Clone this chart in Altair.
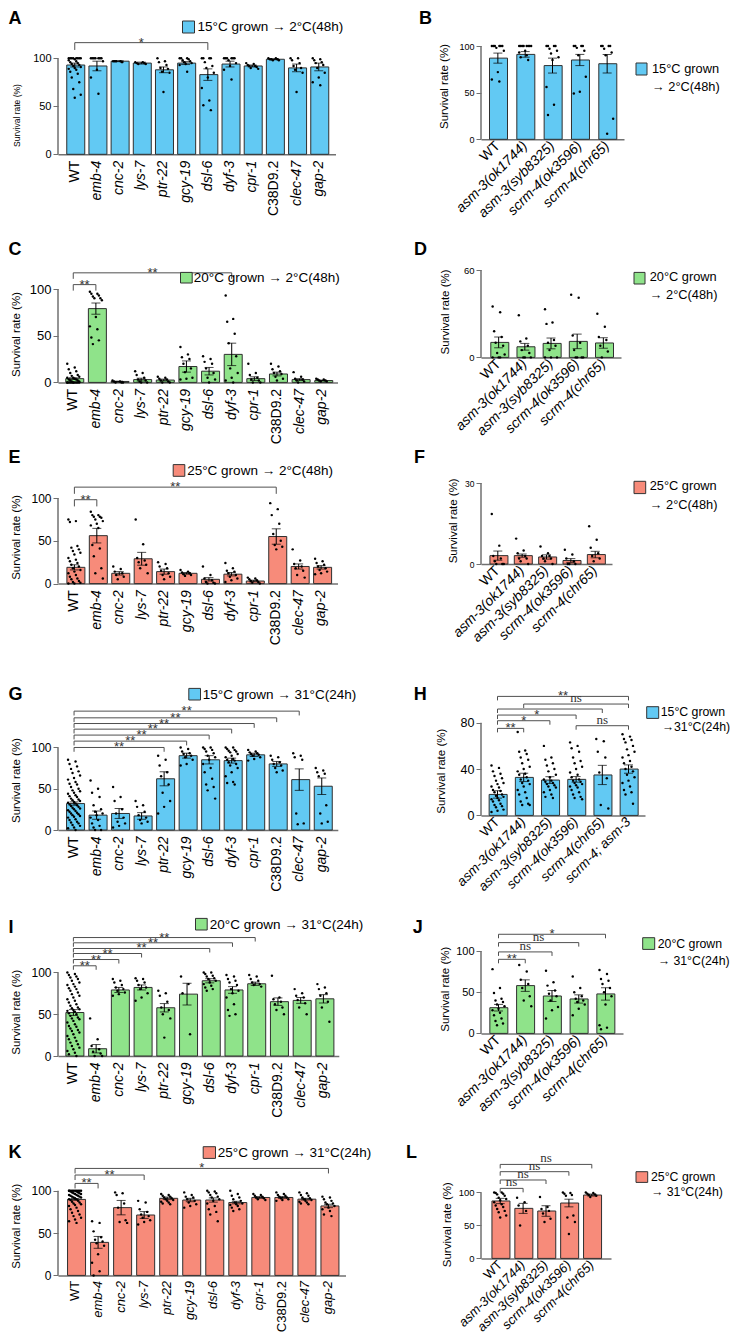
import altair as alt
import pandas as pd

FONT = "Liberation Sans"
SERIF = "Liberation Serif"
BLUE = "#62C9F3"
GREEN = "#8FE38A"
SALMON = "#F78B7A"
AXC = "#707070"
BRC = "#505050"

GENES = ["WT", "emb-4", "cnc-2", "lys-7", "ptr-22", "gcy-19", "dsl-6", "dyf-3",
         "cpr-1", "C38D9.2", "clec-47", "gap-2"]
ALLELES = ["WT", "asm-3(ok1744)", "asm-3(syb8325)", "scrm-4(ok3596)", "scrm-4(chr65)"]
ALLELES_H = ALLELES + ["scrm-4; asm-3"]

# ---------------- A ----------------
A_MEAN = [93, 92, 97, 95, 88, 95, 83, 94, 92, 99, 90, 91]
A_SEM = [2, 5, 0.5, 1, 3, 1.5, 6, 3, 1, 0.5, 4, 4]
A_PTS = [
    [100, 100, 100, 100, 100, 100, 100, 100, 99, 98, 97, 96, 95, 94, 93, 92, 91, 90, 89, 88, 86, 84, 80, 75, 68, 62, 59],
    [100, 100, 100, 100, 100, 100, 100, 97, 88, 80, 63],
    [97, 97, 97, 96, 97],
    [96, 96, 95, 95, 94, 94],
    [100, 97, 96, 93, 90, 89, 86, 85, 65],
    [100, 100, 100, 99, 98, 97, 96, 95, 94, 93, 86],
    [100, 100, 100, 100, 96, 92, 90, 85, 80, 69, 56, 51, 46],
    [100, 100, 100, 100, 100, 100, 98, 95, 92, 88, 78],
    [95, 94, 93, 92, 92, 91, 90, 89],
    [100, 100, 99, 99, 99, 98, 98],
    [100, 100, 98, 95, 92, 90, 88, 85, 65],
    [100, 99, 98, 96, 95, 93, 90, 85, 80, 75, 72],
]
# ---------------- B ----------------
B_MEAN = [87, 91, 79, 85, 81]
B_SEM = [5.4, 3, 8, 6, 10]
B_PTS = [
    [100, 100, 100, 100, 100, 100, 98, 95, 72, 64, 62],
    [100, 100, 100, 100, 100, 100, 100, 100, 95, 93, 90, 88, 85],
    [100, 100, 100, 100, 97, 95, 92, 88, 85, 56, 37, 26],
    [100, 100, 100, 100, 98, 95, 90, 67, 51, 49],
    [100, 100, 100, 100, 97, 93, 90, 22, 6],
]
# ---------------- C ----------------
C_MEAN = [4, 79, 1, 3, 2.5, 17, 12, 30, 4, 9, 3, 2]
C_SEM = [1, 6, 0.3, 1.5, 1, 6, 4, 12, 2, 2, 1, 0.5]
C_PTS = [
    [20, 16, 14, 12, 10, 8, 7, 6, 5, 5, 4, 3, 3, 2, 2, 1, 1, 0, 0, 0, 0, 0, 0, 0, 0, 0, 0, 0],
    [97, 95, 95, 93, 92, 90, 90, 88, 70, 60, 57, 48, 45, 41],
    [2, 1, 1, 0, 0, 0],
    [12, 10, 8, 5, 3, 2, 1, 0, 0],
    [6, 5, 4, 3, 2, 1, 0, 0],
    [38, 30, 27, 25, 20, 15, 11, 5, 4, 3],
    [28, 25, 22, 20, 15, 10, 5, 3, 0],
    [93, 68, 65, 52, 42, 28, 15, 10, 5, 2, 0],
    [20, 10, 8, 5, 3, 2, 0, 0],
    [20, 17, 14, 12, 10, 9, 6, 4, 2],
    [11, 6, 4, 3, 2, 1, 0],
    [4, 3, 3, 2, 2, 1, 1],
]
# ---------------- D ----------------
D_MEAN = [10.3, 7.3, 9.6, 11, 9.9]
D_SEM = [3.7, 2.3, 3.7, 5, 3.6]
D_PTS = [
    [35, 31, 18, 14, 10, 8, 3, 2, 0, 0, 0],
    [29, 13, 11, 8, 5, 3, 0, 0, 0],
    [33, 24, 23, 12, 10, 8, 5, 0, 0, 0],
    [43, 41, 15, 10, 5, 0, 0, 0, 0],
    [30, 21, 14, 12, 8, 4, 0],
]
# ---------------- E ----------------
E_MEAN = [19, 56, 12, 29, 14, 12, 5, 11, 3, 55, 20, 19]
E_SEM = [3, 8.5, 2, 7.5, 3, 1, 2, 2, 1, 9, 3, 2]
E_PTS = [
    [75, 73, 72, 44, 42, 40, 38, 36, 34, 30, 28, 26, 24, 22, 20, 18, 16, 14, 12, 10, 8, 6, 5, 3, 2, 1, 0, 0],
    [84, 80, 80, 78, 78, 77, 75, 73, 70, 68, 65, 45, 41, 32, 18, 12, 6],
    [20, 17, 14, 12, 10, 8, 5],
    [75, 46, 30, 27, 25, 22, 18, 12],
    [25, 23, 20, 18, 15, 12, 10, 8, 5],
    [16, 14, 13, 12, 11, 10, 9],
    [20, 10, 6, 4, 2, 1, 0, 0],
    [24, 18, 15, 14, 12, 10, 8, 6, 4, 2],
    [7, 6, 5, 4, 3, 2, 1, 0],
    [94, 87, 80, 70, 58, 50, 45, 43, 40],
    [40, 27, 23, 20, 18, 15, 10, 7],
    [29, 26, 24, 22, 20, 18, 16, 14, 12, 11],
]
# ---------------- F ----------------
F_MEAN = [3.1, 3.1, 2.6, 1.3, 3.5]
F_SEM = [1.7, 0.6, 0.8, 0.7, 1.2]
F_PTS = [
    [18.5, 6.8, 3, 2, 1, 0, 0, 0],
    [9.4, 5, 4, 3, 2, 2, 1, 0],
    [6.5, 4, 3, 3, 2, 2, 1, 0],
    [5.3, 3.5, 2, 1, 0, 0, 0],
    [14, 9, 6, 4, 3, 2, 1],
]
# ---------------- G ----------------
G_MEAN = [32, 18, 20, 17, 62, 90, 85, 84, 91, 80, 61, 53]
G_SEM = [2, 5, 6, 4, 8.5, 3, 5, 3, 2, 3, 13, 10]
G_PTS = [
    [85, 83, 80, 77, 74, 71, 69, 66, 63, 61, 58, 56, 55, 52, 50, 48, 47, 45, 44, 42, 41, 40, 38, 37, 36, 35, 34, 33,
     32, 31, 30, 29, 28, 27, 26, 25, 24, 23, 22, 21, 20, 19, 18, 17, 16, 15, 13, 12, 10, 9, 8, 6, 5, 3, 2, 0],
    [60, 50, 45, 40, 30, 25, 22, 20, 18, 15, 12, 8, 5, 3, 0, 0],
    [52, 40, 35, 25, 20, 15, 10, 8, 5, 3],
    [35, 30, 28, 22, 18, 15, 12, 10, 8],
    [90, 85, 78, 70, 65, 55, 45, 35, 28, 20],
    [100, 98, 95, 93, 92, 90, 88, 85, 80, 78],
    [100, 100, 98, 97, 95, 93, 90, 88, 85, 80, 75, 70, 62, 55, 52, 48, 38],
    [100, 100, 98, 97, 96, 95, 94, 92, 90, 88, 86, 85, 84, 82, 80, 78, 75, 70, 65, 58, 57, 55],
    [97, 95, 94, 93, 92, 91, 90, 88, 86, 84],
    [90, 88, 85, 82, 80, 78, 75, 72, 70],
    [93, 90, 88, 85, 20, 8, 7],
    [75, 72, 70, 68, 65, 30, 20, 10, 8],
]
# ---------------- H ----------------
H_MEAN = [18.1, 32.8, 30.5, 31.1, 34.9, 40]
H_SEM = [3.2, 3.6, 2.9, 2.4, 8.3, 3.6]
H_PTS = [
    [43, 41, 38, 36, 34, 32, 30, 28, 27, 25, 24, 22, 21, 20, 18, 17, 16, 15, 14, 13, 12, 10, 9, 8, 7, 5, 4, 3],
    [72, 56, 55, 53, 50, 48, 45, 42, 40, 38, 36, 35, 33, 31, 30, 28, 27, 25, 22, 20, 18, 15, 12, 10, 9, 9],
    [60, 50, 48, 45, 43, 40, 38, 35, 33, 31, 30, 29, 28, 27, 26, 25, 24, 22, 20, 18, 16, 15],
    [63, 60, 58, 55, 50, 47, 45, 42, 40, 37, 35, 33, 31, 30, 29, 28, 27, 26, 25, 24, 22, 20, 18, 16, 15, 14],
    [66, 64, 55, 50, 37, 32, 9, 6],
    [70, 68, 66, 65, 63, 60, 57, 55, 52, 50, 47, 45, 42, 40, 38, 35, 33, 30, 28, 25, 22, 20, 18, 10],
]
# ---------------- I ----------------
I_MEAN = [52, 8.7, 79, 82, 57.7, 74, 90, 79, 86.4, 65, 66.5, 68.4]
I_SEM = [3.5, 5, 3, 3, 5, 13, 2.5, 4, 2, 4.5, 3.5, 5]
I_PTS = [
    [100, 98, 97, 95, 94, 92, 90, 88, 86, 85, 83, 81, 80, 78, 76, 74, 72, 70, 68, 66, 64, 62, 60, 58, 57, 56, 55, 54,
     53, 51, 50, 48, 46, 45, 44, 42, 40, 38, 36, 35, 33, 31, 30, 28, 26, 24, 22, 20, 18, 16, 14, 12, 10, 8, 6, 4, 2, 0],
    [45, 20, 12, 8, 5, 3, 0, 0],
    [92, 90, 88, 85, 82, 80, 78, 76, 74, 72],
    [93, 92, 90, 88, 85, 82, 80, 75, 70, 66],
    [78, 75, 72, 65, 58, 55, 50, 45, 22],
    [95, 86, 75, 26],
    [100, 100, 98, 96, 95, 93, 92, 90, 88, 86, 84, 82, 80, 78],
    [97, 95, 92, 90, 88, 85, 80, 78, 75, 70, 62, 55, 50, 48],
    [97, 95, 92, 90, 88, 86, 85, 83],
    [96, 70, 68, 65, 62, 58, 55, 50],
    [80, 75, 72, 70, 67, 63, 58, 50],
    [86, 82, 80, 75, 72, 65, 58, 41],
]
# ---------------- J ----------------
J_MEAN = [31.2, 58, 45.4, 41.8, 47.9]
J_SEM = [4, 7, 6.7, 5, 7.5]
J_PTS = [
    [78, 55, 49, 42, 40, 38, 35, 33, 30, 28, 25, 22, 18, 15, 12, 10],
    [83, 75, 65, 60, 55, 45, 40, 33],
    [76, 62, 58, 52, 48, 45, 40, 32, 28, 18],
    [69, 55, 50, 45, 42, 40, 38, 35, 30, 22],
    [77, 72, 66, 64, 60, 55, 50, 45, 35, 10, 7, 5],
]
# ---------------- K ----------------
K_MEAN = [89.7, 39, 80, 71.3, 91, 89, 89, 86, 92, 92, 90, 82]
K_SEM = [1, 7, 8.5, 4, 1.5, 2, 2.5, 1.5, 1, 1, 1, 2]
K_PTS = [
    [100, 100, 100, 100, 100, 100, 100, 100, 100, 100, 99, 99, 98, 98, 97, 97, 96, 96, 95, 95, 94, 94, 93, 93, 92, 92,
     91, 90, 90, 89, 88, 87, 86, 85, 84, 83, 82, 80, 78, 76, 74, 72, 70, 68, 66, 64, 62],
    [64, 62, 52, 45, 42, 40, 38, 35, 25, 15, 5, 0],
    [98, 97, 95, 85, 80, 65, 63, 62],
    [88, 86, 78, 75, 72, 70, 68, 65, 63, 60],
    [96, 95, 94, 93, 92, 91, 90, 89, 88, 87, 86, 85, 84],
    [98, 95, 93, 92, 90, 88, 86, 84, 82, 80],
    [100, 99, 98, 97, 95, 93, 92, 90, 88, 85, 82, 78, 75, 72, 64],
    [100, 96, 94, 92, 90, 88, 86, 85, 84, 83, 82, 80, 78, 76],
    [96, 95, 94, 93, 92, 91, 90, 89],
    [98, 96, 95, 94, 93, 92, 91, 90, 89, 88],
    [98, 97, 95, 94, 92, 91, 90, 89, 88, 87, 86, 85, 84],
    [93, 92, 90, 88, 86, 85, 84, 82, 80, 78, 76, 72, 70],
]
# ---------------- L ----------------
L_MEAN = [87, 75.8, 71.8, 83.9, 96]
L_SEM = [4, 7.6, 8, 5.8, 1.5]
L_PTS = [
    [100, 100, 99, 98, 97, 95, 92, 90, 88, 85, 82, 80, 78, 75, 72, 70, 65, 62],
    [92, 85, 80, 72, 50],
    [93, 78, 75, 72, 68, 60, 55],
    [100, 99, 98, 96, 95, 65, 62, 55, 37],
    [100, 99, 98, 97, 96, 95, 93],
]

# significance brackets: (from, to, level in % units, label)
A_BR = [("WT", "dsl-6", 116.3, "*")]
C_BR = [("WT", "emb-4", 104.7, "**"), ("WT", "dyf-3", 117.3, "**")]
E_BR = [("WT", "emb-4", 98, "**"), ("WT", "C38D9.2", 112.7, "**")]
G_BR = [("WT", "ptr-22", 99.9, "**"), ("WT", "gcy-19", 107.6, "**"), ("WT", "dsl-6", 114.9, "**"),
        ("WT", "dyf-3", 122.1, "**"), ("WT", "cpr-1", 128.9, "**"), ("WT", "C38D9.2", 135.8, "**"),
        ("WT", "clec-47", 143.9, "**")]
H_BR = [("WT", "asm-3(ok1744)", 75.1, "**"), ("WT", "asm-3(syb8325)", 81.7, "*"),
        ("WT", "scrm-4(ok3596)", 86.6, "*"), ("WT", "scrm-4(chr65)", 91.8, ""),
        ("asm-3(ok1744)", "scrm-4; asm-3", 96.1, "ns"), ("WT", "scrm-4; asm-3", 102.7, "**"),
        ("scrm-4(ok3596)", "scrm-4; asm-3", 77.4, "ns")]
I_BR = [("WT", "emb-4", 107.9, "**"), ("WT", "cnc-2", 115.4, "**"), ("WT", "lys-7", 122.6, "**"),
        ("WT", "dsl-6", 128.6, "**"), ("WT", "dyf-3", 135.4, "**"), ("WT", "cpr-1", 141.7, "**")]
J_BR = [("WT", "asm-3(ok1744)", 89.9, "**"), ("WT", "asm-3(syb8325)", 98.9, "ns"),
        ("WT", "scrm-4(ok3596)", 110.2, "ns"), ("WT", "scrm-4(chr65)", 120.3, "*")]
K_BR = [("WT", "emb-4", 108.6, "**"), ("WT", "lys-7", 118.5, "**"), ("WT", "gap-2", 126.3, "*")]
L_BR = [("WT", "asm-3(ok1744)", 106.1, "ns"), ("WT", "asm-3(syb8325)", 118.8, "ns"),
        ("WT", "scrm-4(ok3596)", 131.4, "ns"), ("WT", "scrm-4(chr65)", 142.4, "ns")]

LEFT_X0 = 57.5
ROW_GAP = 99
COL_GAP = 135
FIRST_TOP = 46
LETTER_FS = 18

DUMMY = alt.Data(values=[{"a": 1}])
OX = alt.Scale(domain=[0, 1], range=[0, 1])


def panel(cats, means, sems, pts, P):
    n = len(cats)
    ppu = (P["zero"] - P["refpx"]) / P["refv"]
    H = P["zero"] - P["top"]
    dmax = H / ppu
    step = (P["c1"] - P["c0"]) / (n - 1)
    pin = 1 - P["bw"] / step
    pout = max(0.0, (P["W"] / step - n + pin) / 2)
    half = P["bw"] / 2
    xs = alt.Scale(domain=cats, paddingInner=pin, paddingOuter=pout)
    ys = alt.Scale(domain=[0, dmax], nice=False, zero=False)
    lx = lambda px: px - P["x0"]
    ly = lambda py: py - P["top"]

    def X(f):
        return alt.X(f, scale=xs)

    def Y(f):
        return alt.Y(f, scale=ys)

    bdf = pd.DataFrame({"cat": cats, "mean": means, "sem": sems})
    bdf["lo"] = (bdf["mean"] - bdf["sem"]).clip(lower=0)
    bdf["hi"] = bdf["mean"] + bdf["sem"]

    rows = []
    for c, vals in zip(cats, pts):
        for k, v in enumerate(vals):
            rows.append({"cat": c, "v": v, "k": k})
    pdf = pd.DataFrame(rows)

    xaxis = alt.Axis(
        title=None, labelAngle=P["langle"], labelAlign="right", labelBaseline="middle",
        labelFontSize=P["lfs"], labelFont=FONT, labelPadding=P["lpad"], ticks=False,
        domainColor=AXC, domainWidth=1.5, labelColor="black", labelOverlap=False, labelLimit=0,
        labelFontStyle={"condition": {"test": "datum.value == 'WT' || datum.value == 'C38D9.2'",
                                      "value": "normal"}, "value": "italic"},
    )
    yaxis = alt.Axis(
        values=P["yvals"], domain=False, title="Survival rate (%)", titleFont=FONT,
        titleFontSize=P["tfs"], titleFontWeight="normal", titleColor="black",
        titleX=lx(P["tx"]), titleY=ly(P["tcy"]), titleBaseline="bottom",
        labelFont=FONT, labelFontSize=P["yfs"], labelColor="black", tickSize=5,
        tickColor=AXC, tickWidth=1, labelPadding=2, grid=False,
    )

    layers = []
    layers.append(
        alt.Chart(bdf).mark_bar(fill=P["color"], stroke="#2f2f2f", strokeWidth=1).encode(
            x=alt.X("cat:N", scale=xs, axis=xaxis), y=alt.Y("mean:Q", scale=ys, axis=yaxis)
        )
    )
    layers.append(
        alt.Chart(pdf).transform_calculate(
            off=f"{half} + {P['jit']} * (((datum.k * 5) % 9) - 4) / 4"
        ).mark_circle(size=P["ps"], color="black", opacity=1).encode(
            x=X("cat:N"), xOffset=alt.XOffset("off:Q", scale=OX), y=Y("v:Q")
        )
    )
    layers.append(
        alt.Chart(bdf).mark_rule(color="black", strokeWidth=1).encode(x=X("cat:N"), y=Y("lo:Q"), y2="hi:Q")
    )
    layers.append(
        alt.Chart(bdf).transform_fold(["lo", "hi"], as_=["kk", "yv"]).mark_tick(
            color="black", thickness=1, size=P["cap"]
        ).encode(x=X("cat:N"), y=Y("yv:Q"))
    )
    ymax_tick = P["yvals"][-1]
    layers.append(
        alt.Chart(pd.DataFrame({"a": [0], "b": [ymax_tick]})).mark_rule(color=AXC, strokeWidth=1.5).encode(
            x=alt.value(0), y=Y("a:Q"), y2="b:Q"
        )
    )

    if P.get("br"):
        idx = {c: i for i, c in enumerate(cats)}
        kdf = pd.DataFrame(P["br"], columns=["from", "to", "lev", "lab"])
        kdf["lo"] = kdf["lev"] - P["tick"] / ppu
        kdf["loff"] = half + (kdf["to"].map(idx) - kdf["from"].map(idx)) * step / 2
        layers.append(
            alt.Chart(kdf).mark_rule(color=BRC, strokeWidth=1).encode(x=X("from:N"), x2="to:N", y=Y("lev:Q"))
        )
        layers.append(
            alt.Chart(kdf).mark_rule(color=BRC, strokeWidth=1).encode(x=X("from:N"), y=Y("lev:Q"), y2="lo:Q")
        )
        layers.append(
            alt.Chart(kdf).mark_rule(color=BRC, strokeWidth=1).encode(x=X("to:N"), y=Y("lev:Q"), y2="lo:Q")
        )
        layers.append(
            alt.Chart(kdf).transform_filter("datum.lab != 'ns' && datum.lab != ''").mark_text(
                font=FONT, fontSize=13, color="#333333", baseline="alphabetic", dy=4
            ).encode(x=X("from:N"), xOffset=alt.XOffset("loff:Q", scale=OX), y=Y("lev:Q"), text="lab:N")
        )
        layers.append(
            alt.Chart(kdf).transform_filter("datum.lab == 'ns'").mark_text(
                font=SERIF, fontSize=13, color="#333333", baseline="alphabetic", dy=-2
            ).encode(x=X("from:N"), xOffset=alt.XOffset("loff:Q", scale=OX), y=Y("lev:Q"), text="lab:N")
        )

    if P.get("anchor"):
        # invisible 1px marker that pins the page's top-left corner
        ax, ay = P["anchor"]
        layers.append(
            alt.Chart(DUMMY).mark_rect(fillOpacity=0, strokeOpacity=0).encode(
                x=alt.value(lx(ax)), x2=alt.value(lx(ax) + 1), y=alt.value(ly(ay)), y2=alt.value(ly(ay) + 1)
            )
        )
    layers.append(
        alt.Chart(DUMMY).mark_text(
            text=P["letter"], font=FONT, fontSize=LETTER_FS, fontWeight="bold", align="left", baseline="top",
            color="black"
        ).encode(x=alt.value(lx(P["lxy"][0])), y=alt.value(ly(P["lxy"][1] + 2.3)))
    )
    sx0, sy0, sx1, sy1 = P["sq"]
    layers.append(
        alt.Chart(DUMMY).mark_rect(fill=P["color"], stroke="#333333", strokeWidth=1).encode(
            x=alt.value(lx(sx0)), x2=alt.value(lx(sx1)), y=alt.value(ly(sy0)), y2=alt.value(ly(sy1))
        )
    )
    for (txt, tx, ty) in P["leg"]:
        layers.append(
            alt.Chart(DUMMY).mark_text(
                text=txt, font=FONT, fontSize=P["legfs"], align="left", baseline="middle", color="black"
            ).encode(x=alt.value(lx(tx)), y=alt.value(ly(ty)))
        )

    return alt.layer(*layers).properties(width=P["W"], height=H)


LEFT = dict(x0=LEFT_X0, bw=15, yvals=[0, 50, 100], langle=-90, lfs=14, lpad=6, tfs=11.5, yfs=12,
            jit=6, ps=6, cap=9, legfs=13.5)
RIGHT = dict(langle=-45, lfs=14, lpad=4, tfs=11.5, jit=6, ps=6, cap=9, legfs=12.8)

PA = dict(LEFT, zero=154.3, refv=100, refpx=58.3, c0=75, c1=319, bw=16,
          color=BLUE, letter="A", lxy=(8, 8), sq=(182, 21, 194, 33), anchor=(8, 8),
          leg=[("15°C grown → 2°C(48h)", 197, 27)], tx=21, tcy=115, tfs=8.5, yfs=11, br=A_BR, tick=7.3)
PB = dict(RIGHT, x0=470, W=143, zero=139.3, refv=100, refpx=46, c0=486.7, c1=596, bw=16.7,
          yvals=[0, 50, 100], color=BLUE, letter="B", lxy=(408, 8), sq=(625, 63, 636, 75),
          leg=[("15°C grown", 641, 69), ("→ 2°C(48h)", 641, 87)], tx=438, tcy=86, yfs=9)
PC = dict(LEFT, zero=381.7, refv=100, refpx=288.3, c0=72, c1=321,
          color=GREEN, letter="C", lxy=(8, 238.3), sq=(180, 271.7, 191.7, 282.3),
          leg=[("20°C grown → 2°C(48h)", 193.3, 277)], tx=21, tcy=333.3, yfs=13, br=C_BR, tick=6)
PD = dict(RIGHT, x0=472, W=140, zero=356.7, refv=60, refpx=269.3, c0=489.3, c1=594, bw=15.7,
          yvals=[0, 20, 40, 60], color=GREEN, letter="D", lxy=(405, 238), sq=(625, 271.7, 636, 283.3),
          leg=[("20°C grown", 640.7, 276.7), ("→ 2°C(48h)", 640.7, 294.3)], tx=441, tcy=310.7, yfs=9.5)
PE = dict(LEFT, zero=582.3, refv=100, refpx=496.7, c0=75, c1=321.7,
          color=SALMON, letter="E", lxy=(8, 445), sq=(172.7, 463.3, 184.3, 475),
          leg=[("25°C grown → 2°C(48h)", 186.7, 470)], tx=21, tcy=535.5, yfs=12, br=E_BR, tick=6.7)
PF = dict(RIGHT, x0=472, W=131, zero=562.7, refv=30, refpx=481.7, c0=489.3, c1=586.7, bw=15.7,
          yvals=[0, 10, 20, 30], color=SALMON, letter="F", lxy=(405, 445), sq=(625, 480, 636.7, 492.3),
          leg=[("25°C grown", 640.7, 485), ("→ 2°C(48h)", 640.7, 503.3)], tx=449, tcy=519, yfs=8.5)
PG = dict(LEFT, zero=828.3, refv=100, refpx=745.7, c0=74, c1=321.7,
          color=BLUE, letter="G", lxy=(8, 681.7), sq=(188.3, 686.7, 200, 698.3),
          leg=[("15°C grown → 31°C(24h)", 202.3, 693.3)], tx=21, tcy=778.3, yfs=12, br=G_BR, tick=4.3)
PH = dict(RIGHT, x0=472.3, W=164, zero=813.7, refv=80, refpx=721, c0=489, c1=620, bw=16.7,
          yvals=[0, 20, 40, 60, 80], color=BLUE, letter="H", lxy=(405, 681.7), sq=(638, 705, 650, 716.7),
          leg=[("15°C grown", 652, 710), ("→31°C(24h)", 653, 725)], tx=438, tcy=769, yfs=12.5, lfs=13.5,
          br=H_BR, tick=4, legfs=12.3)
PI = dict(LEFT, zero=1054.3, refv=100, refpx=970.7, c0=75, c1=325,
          color=GREEN, letter="I", lxy=(8, 915), sq=(195, 916.7, 206.7, 928.3),
          leg=[("20°C grown → 31°C(24h)", 209.3, 923.3)], tx=21, tcy=1010, yfs=12, br=I_BR, tick=4)
PJ = dict(RIGHT, x0=473.3, W=142, zero=1031.7, refv=100, refpx=949.3, c0=490.7, c1=597.7,
          bw=17.3, yvals=[0, 50, 100], color=GREEN, letter="J", lxy=(405, 915), sq=(635, 936, 647, 947.7),
          leg=[("20°C grown", 650, 942), ("→ 31°C(24h)", 650, 959)], tx=443, tcy=987, yfs=11, br=J_BR, tick=4,
          legfs=12.3)
PK = dict(LEFT, zero=1273.7, refv=100, refpx=1189, c0=73.3, c1=326.7,
          color=SALMON, letter="K", lxy=(8, 1140), sq=(202.7, 1145, 215, 1156.7),
          leg=[("25°C grown → 31°C(24h)", 217.3, 1151.7)], tx=21, tcy=1224, yfs=12, br=K_BR, tick=5,
          lfs=13, lpad=5)
PL = dict(RIGHT, x0=480, W=130, zero=1256.7, refv=100, refpx=1190.7, c0=501.7, c1=593.3,
          bw=16.5, yvals=[0, 50, 100], color=SALMON, letter="L", lxy=(405, 1140), sq=(635, 1170, 646.7, 1180.7),
          leg=[("25°C grown", 650, 1175), ("→ 31°C(24h)", 650, 1190)], tx=451, tcy=1222.5, yfs=9.5,
          lfs=13, br=L_BR, tick=4, legfs=12.3)

LEFTS = [PA, PC, PE, PG, PI, PK]
RIGHTS = [PB, PD, PF, PH, PJ, PL]

# rows share their top edge; a row's height is its taller cell; one gap between rows
top = FIRST_TOP
for lp, rp in zip(LEFTS, RIGHTS):
    lp["W"] = rp["x0"] - LEFT_X0 - COL_GAP
    lp["top"] = rp["top"] = top
    top = max(lp["zero"], rp["zero"]) + ROW_GAP

DATA = [
    (GENES, A_MEAN, A_SEM, A_PTS, PA), (ALLELES, B_MEAN, B_SEM, B_PTS, PB),
    (GENES, C_MEAN, C_SEM, C_PTS, PC), (ALLELES, D_MEAN, D_SEM, D_PTS, PD),
    (GENES, E_MEAN, E_SEM, E_PTS, PE), (ALLELES, F_MEAN, F_SEM, F_PTS, PF),
    (GENES, G_MEAN, G_SEM, G_PTS, PG), (ALLELES_H, H_MEAN, H_SEM, H_PTS, PH),
    (GENES, I_MEAN, I_SEM, I_PTS, PI), (ALLELES, J_MEAN, J_SEM, J_PTS, PJ),
    (GENES, K_MEAN, K_SEM, K_PTS, PK), (ALLELES, L_MEAN, L_SEM, L_PTS, PL),
]
panels = [panel(*d) for d in DATA]

chart = alt.concat(
    *panels, columns=2, align="none", bounds="flush",
    spacing={"row": ROW_GAP, "column": COL_GAP},
).properties(padding=0).configure(font=FONT).configure_view(stroke=None)

chart.save("out.html", embed_options={"renderer": "svg", "actions": False})
